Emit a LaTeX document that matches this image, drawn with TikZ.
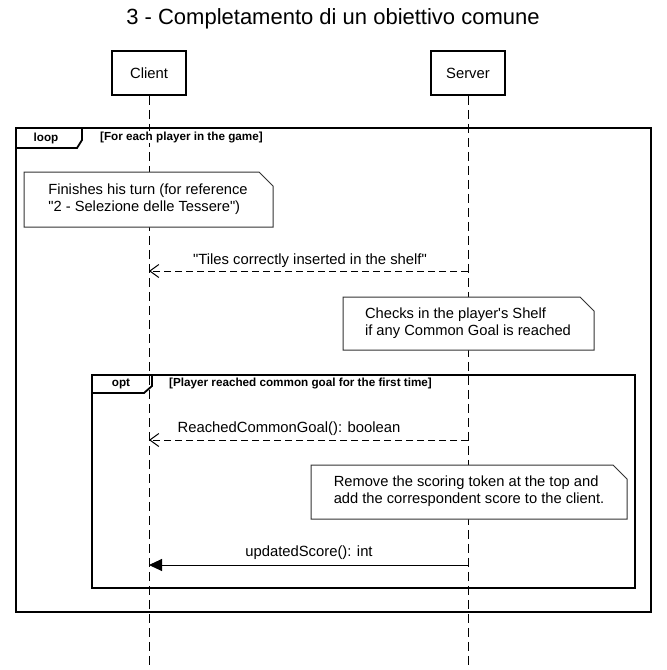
\documentclass[tikz,border=0pt]{standalone}
\usepackage{fontspec}
\setmainfont{Liberation Sans}
\usetikzlibrary{arrows.meta}
\tikzset{
  head/.style={draw, line width=1.6pt, minimum width=74pt, minimum height=44pt, inner sep=0pt, font=\fontsize{14.8}{17}\selectfont},
  lifeline/.style={line width=1pt, dash pattern=on 9pt off 5pt},
  retmsg/.style={line width=1pt, dash pattern=on 7pt off 4pt, -{Straight Barb[length=9pt,width=13pt,line width=1pt]}},
  callmsg/.style={line width=1pt, -{Triangle[length=13pt,width=12pt]}},
  msglabel/.style={font=\fontsize{14.8}{17}\selectfont, inner sep=0pt},
  notetext/.style={font=\fontsize{14.7}{17}\selectfont, align=left, inner sep=0pt},
  notebox/.style={draw=black!80, line width=1pt, fill=white},
  frame/.style={draw, line width=1.8pt},
  framelabel/.style={font=\bfseries\fontsize{11.7}{13}\selectfont, inner sep=1pt, fill=white},
}
\begin{document}
\begin{tikzpicture}[x=1pt,y=-1pt]
\useasboundingbox[fill=white] (0,0) rectangle (667,670);

% title
\node[font=\fontsize{22}{24}\selectfont] (title) at (333,19) {3 - Completamento di un obiettivo comune};

% heads
\node[head, fill=white] (client) at (149,73) {Client};
\node[head, fill=white] (server) at (468,73) {Server};

% lifelines
\coordinate (cend) at (149,670);
\coordinate (send) at (468,670);
\draw[lifeline] (client.south) -- (cend);
\draw[lifeline] (server.south) -- (send);

% frames
\draw[frame] (16,128) rectangle (651,612);
\draw[frame] (16,148) -- (77,148) -- (82,140) -- (82,128);
\node[framelabel] (looplbl) at (46,138) {loop};
\node[framelabel, anchor=west] (loopguard) at (99,137) {[For each player in the game]};

\draw[frame] (92,375) rectangle (635,588);
\draw[frame] (92,393) -- (144,393) -- (152,386) -- (152,375);
\node[framelabel] (optlbl) at (121,384) {opt};
\node[framelabel, anchor=west] (optguard) at (168,383) {[Player reached common goal for the first time]};

% note 1
\draw[notebox] (24,172) -- (259,172) -- (273,186) -- (273,227) -- (24,227) -- cycle;
\node[notetext] (n1) at (148,199) {Finishes his turn (for reference\\\textquotedbl 2 - Selezione delle Tessere\textquotedbl)};

% message 1
\coordinate (s1) at (468,271);
\coordinate (c1) at (149,271);
\draw[retmsg] (s1) -- (c1);
\node[msglabel] (m1) at (310,261) {\textquotedbl Tiles correctly inserted in the shelf\textquotedbl};

% note 2
\draw[notebox] (343,297) -- (580,297) -- (594,311) -- (594,350) -- (343,350) -- cycle;
\node[notetext] (n2) at (468,323) {Checks in the player\textquotesingle s Shelf\\if any Common Goal is reached};

% message 2
\coordinate (s2) at (468,440);
\coordinate (c2) at (149,440);
\draw[retmsg] (s2) -- (c2);
\node[msglabel] (m2) at (289,429) {ReachedCommonGoal(): boolean};

% note 3
\draw[notebox] (311,465) -- (613,465) -- (627,479) -- (627,519) -- (311,519) -- cycle;
\node[notetext] (n3) at (469,491) {Remove the scoring token at the top and\\add the correspondent score to the client.};

% message 3
\coordinate (s3) at (468,565);
\coordinate (c3) at (149,565);
\draw[callmsg] (s3) -- (c3);
\node[msglabel] (m3) at (309,553) {updatedScore(): int};
\end{tikzpicture}
\end{document}
